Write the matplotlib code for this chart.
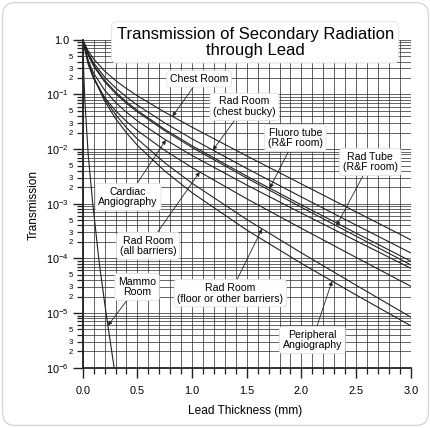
import numpy as np
import matplotlib
matplotlib.use("Agg")
import matplotlib.pyplot as plt
from matplotlib.patches import FancyBboxPatch

plt.rcParams.update({
    "font.family": ["Liberation Sans", "DejaVu Sans"],
    "mathtext.fontset": "custom",
    "mathtext.rm": "Liberation Sans",
    "mathtext.it": "Liberation Sans:italic",
})

thickness = [0, 0.05, 0.1, 0.2, 0.3, 0.4, 0.5, 0.75, 1.0, 1.5, 2.0, 2.5, 3.0]

chest_room = [1.0, 0.624, 0.445, 0.268, 0.180, 0.128, 0.0944, 0.0474, 0.0251,
              7.50e-3, 2.30e-3, 7.08e-4, 2.19e-4]
chest_bucky = [1.0, 0.568, 0.378, 0.208, 0.132, 0.0897, 0.0637, 0.0301, 0.0154,
               4.42e-3, 1.33e-3, 4.07e-4, 1.26e-4]
fluoro_tube = [1.0, 0.541, 0.348, 0.182, 0.111, 0.0731, 0.0508, 0.0230, 0.0115,
               3.20e-3, 9.53e-4, 2.90e-4, 8.9e-5]
rad_tube = [1.0, 0.518, 0.328, 0.170, 0.104, 0.0687, 0.0478, 0.0217, 0.0107,
            2.95e-3, 8.61e-4, 2.55e-4, 7.62e-5]
cardiac = [1.0, 0.414, 0.244, 0.120, 0.0716, 0.0472, 0.0328, 0.0151, 7.62e-3,
           2.20e-3, 6.73e-4, 2.10e-4, 6.61e-5]
all_barriers = [1.0, 0.352, 0.193, 0.0881, 0.0505, 0.0321, 0.0218, 9.48e-3, 4.59e-3,
                1.23e-3, 3.54e-4, 1.04e-4, 3.09e-5]
floor_barriers = [1.0, 0.394, 0.208, 0.0837, 0.0428, 0.0247, 0.0153, 5.61e-3, 2.37e-3,
                  5.15e-4, 1.26e-4, 3.23e-5, 8.43e-6]
peripheral = [1.0, 0.397, 0.203, 0.0759, 0.0362, 0.0198, 0.0117, 3.96e-3, 1.59e-3,
              3.30e-4, 8.09e-5, 2.14e-5, 5.86e-6]

mammo_thickness = [0, 0.01, 0.02, 0.05, 0.088, 0.15, 0.213, 0.287]
mammo_room = [1.0, 0.214, 0.0724, 7.9e-3, 1.17e-3, 8.5e-5, 1.0e-5, 1.0e-6]

curves = [
    ("Chest Room", thickness, chest_room),
    ("Rad Room\n(chest bucky)", thickness, chest_bucky),
    ("Fluoro tube\n(R&F room)", thickness, fluoro_tube),
    ("Rad Tube\n(R&F room)", thickness, rad_tube),
    ("Cardiac\nAngiography", thickness, cardiac),
    ("Rad Room\n(all barriers)", thickness, all_barriers),
    ("Rad Room\n(floor or other barriers)", thickness, floor_barriers),
    ("Peripheral\nAngiography", thickness, peripheral),
    ("Mammo\nRoom", mammo_thickness, mammo_room),
]

# label placement: text centre (mm, transmission) and x where the arrow hits the curve
label_pos = {
    "Chest Room": (1.065, 0.193, 0.82),
    "Rad Room\n(chest bucky)": (1.48, 0.0593, 1.19),
    "Fluoro tube\n(R&F room)": (1.945, 0.016, 1.71),
    "Rad Tube\n(R&F room)": (2.63, 5.8e-3, 2.32),
    "Cardiac\nAngiography": (0.415, 1.33e-3, 0.76),
    "Rad Room\n(all barriers)": (0.597, 1.69e-4, 1.07),
    "Rad Room\n(floor or other barriers)": (1.35, 2.3e-5, 1.64),
    "Peripheral\nAngiography": (2.10, 3.2e-6, 2.28),
    "Mammo\nRoom": (0.497, 3.0e-5, 0.23),
}

fig = plt.figure(figsize=(4.31, 4.28), dpi=100)
frame = FancyBboxPatch((0.006, 0.006), 0.988, 0.988,
                       boxstyle="round,pad=0,rounding_size=0.03",
                       transform=fig.transFigure, fc="white",
                       ec="#d4d4d4", lw=0.9, zorder=-5)
fig.patches.append(frame)

ax = fig.add_axes([0.192, 0.141, 0.761, 0.766])
ax.patch.set_alpha(0)
ax.set_yscale("log")
ax.set_xlim(0, 3.0)
ax.set_ylim(1e-6, 1.0)

for name, xs, ys in curves:
    ax.plot(xs, ys, color="#222222", lw=0.8, zorder=2)

for name, xs, ys in curves:
    tx, ty, hit = label_pos[name]
    hy = np.exp(np.interp(hit, xs, np.log(ys)))
    ax.annotate(name, xy=(hit, hy), xytext=(tx, ty), ha="center", va="center",
                fontsize=7.6, linespacing=1.1, zorder=5,
                bbox=dict(boxstyle="round,pad=0.3", fc="white", ec="#e0e0e0", lw=0.6),
                arrowprops=dict(arrowstyle="-|>", color="#222222", lw=0.6,
                                mutation_scale=6, shrinkA=0, shrinkB=0))

# grid and ticks
ax.set_xticks(np.arange(0, 3.01, 0.5))
ax.set_xticklabels([f"{v:.1f}" for v in np.arange(0, 3.01, 0.5)])
ax.set_xticks(np.arange(0, 3.01, 0.1), minor=True)

decades = [10.0 ** -k for k in range(0, 7)]
dec_labels = ["1.0"] + [f"$10^{{-{k}}}$" for k in range(1, 7)]
ax.set_yticks(decades)
ax.set_yticklabels(dec_labels)
minor_vals, minor_labels = [], []
for k in range(1, 7):
    for m in range(2, 10):
        minor_vals.append(m * 10.0 ** -k)
        minor_labels.append(str(m) if m in (2, 3, 5) else "")
ax.set_yticks(minor_vals, minor=True)
ax.set_yticklabels(minor_labels, minor=True)

ax.grid(True, which="both", color="#3a3a3a", lw=0.55, zorder=1)
ax.set_axisbelow(True)

ax.tick_params(axis="both", which="major", direction="out", length=7, width=1.0,
               labelsize=7.8, pad=3, color="#222222")
ax.tick_params(axis="both", which="minor", direction="out", length=4, width=0.9,
               labelsize=5.5, pad=3, color="#222222")
ax.tick_params(axis="x", which="major", pad=6)

for side in ("top", "right"):
    ax.spines[side].set_visible(False)
for side in ("left", "bottom"):
    ax.spines[side].set_linewidth(1.3)
    ax.spines[side].set_color("#222222")

fig.text(0.592, 0.901, "Transmission of Secondary Radiation\nthrough Lead",
         ha="center", va="center", fontsize=12, linespacing=1.1, zorder=10,
         bbox=dict(boxstyle="round,pad=0.3", fc="white", ec="#e0e0e0", lw=0.6))
fig.text(0.077, 0.522, "Transmission", rotation=90, ha="center", va="center", fontsize=8.6)
fig.text(0.568, 0.040, "Lead Thickness (mm)", ha="center", va="center", fontsize=8.6)

fig.savefig("out.png", dpi=100)
